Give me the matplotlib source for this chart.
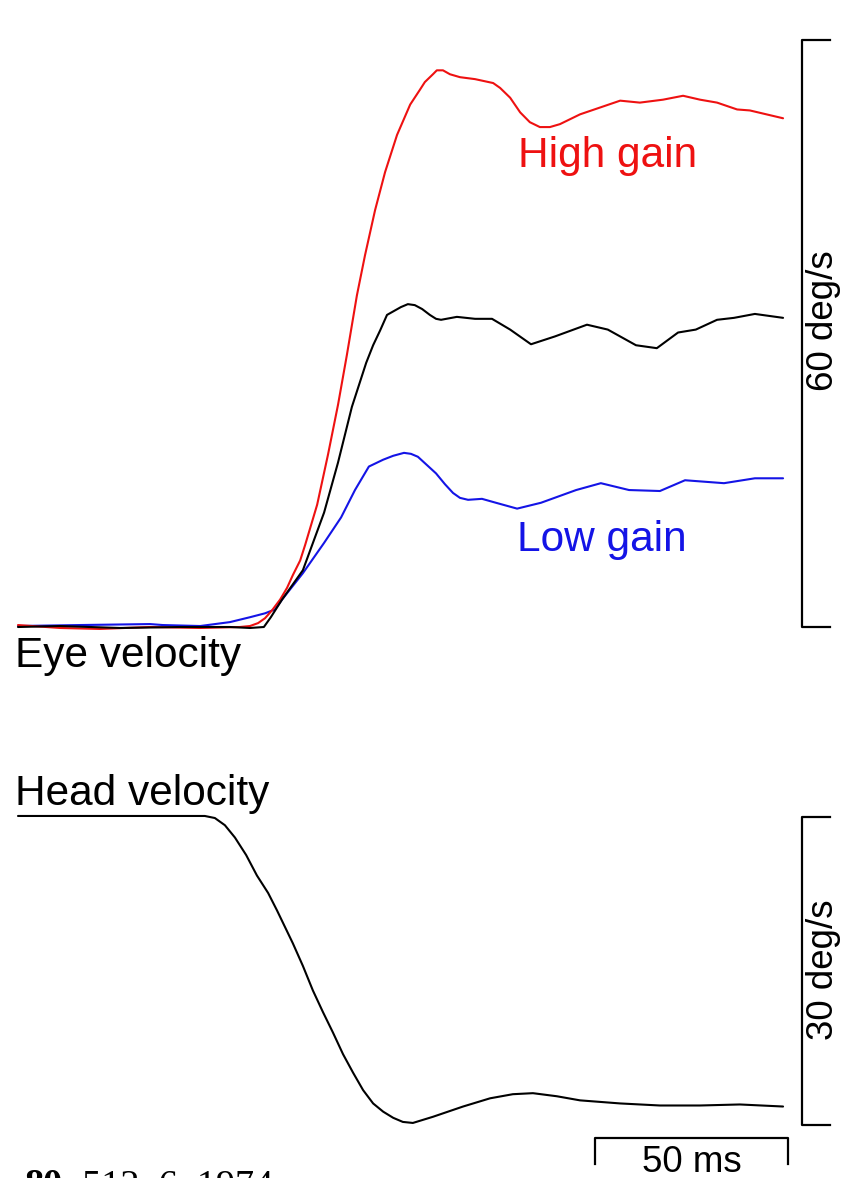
import numpy as np
import matplotlib
matplotlib.use("Agg")
import matplotlib.pyplot as plt

# eye velocity traces, time in ms from trace start, velocity in deg/s
red_t = [0, 10.9, 21.2, 34.2, 47.2, 57.5, 60.1, 62.2, 64.0, 65.8, 67.9, 69.7, 71.2,
         73.1, 74.4, 77.5, 80.3, 82.9, 85.2, 87.8, 89.9, 92.5, 95.1, 98.2, 101.6,
         104.1, 105.4, 107.5, 108.5, 110.1, 111.9, 114.5, 118.4, 123.1, 124.9,
         127.5, 130.1, 132.6, 135.2, 137.8, 140.4, 145.6, 150.8, 156.0, 161.1,
         167.1, 172.3, 176.7, 181.1, 186.3, 189.6, 198.2]
red_v = [0.2, -0.1, -0.2, 0.0, -0.1, 0.0, 0.1, 0.4, 0.9, 1.7, 2.8, 4.0, 5.3,
         6.8, 8.4, 12.5, 17.6, 22.7, 27.8, 33.9, 38.0, 42.6, 46.5, 50.3, 53.4,
         54.9, 55.7, 56.5, 56.9, 56.9, 56.5, 56.2, 56.0, 55.6, 55.1,
         54.1, 52.6, 51.6, 51.1, 51.1, 51.4, 52.4, 53.1, 53.8, 53.6,
         53.9, 54.3, 53.9, 53.6, 52.9, 52.8, 52.0]

black_t = [0, 10.9, 26.4, 42.0, 54.9, 60.1, 63.7, 65.5, 68.4, 73.8, 79.3, 82.9, 86.5,
           90.2, 92.0, 93.8, 95.6, 97.4, 99.2, 101.0, 102.8, 104.7, 106.7, 108.3,
           109.6, 113.7, 118.4, 122.8, 127.5, 132.9, 139.1, 147.4, 152.8, 160.1,
           165.5, 171.0, 175.6, 181.1, 185.5, 190.9, 198.2]
black_v = [0.0, 0.1, -0.1, 0.0, 0.0, -0.1, 0.0, 1.0, 2.8, 5.8, 11.7, 16.8, 22.5,
           27.0, 28.8, 30.3, 31.9, 32.3, 32.7, 33.0, 32.9, 32.5, 31.9, 31.5,
           31.4, 31.7, 31.5, 31.5, 30.4, 28.9, 29.7, 30.9, 30.4, 28.8,
           28.5, 30.1, 30.4, 31.4, 31.6, 32.0, 31.6]

blue_t = [0, 16.1, 34.2, 37.5, 47.2, 54.9, 60.1, 64.0, 66.6, 68.4, 73.8, 79.3, 83.7,
          87.3, 90.9, 94.6, 97.2, 100.0, 101.8, 103.6, 108.3, 110.6, 112.7, 114.5,
          116.6, 120.2, 123.8, 129.3, 135.5, 144.6, 151.0, 158.3, 166.3, 172.8,
          182.9, 190.9, 198.2]
blue_v = [0.1, 0.2, 0.3, 0.2, 0.1, 0.5, 1.0, 1.4, 1.8, 2.8, 5.5, 8.6, 11.2,
          14.0, 16.4, 17.1, 17.5, 17.8, 17.7, 17.4, 15.7, 14.6, 13.7, 13.2,
          13.0, 13.1, 12.7, 12.1, 12.7, 14.0, 14.7, 14.0, 13.9, 15.0,
          14.7, 15.2, 15.2]

# head velocity, deg/s above the lower end of its scale bar
head_t = [0, 21.2, 34.2, 48.4, 51.0, 53.6, 56.2, 59.1, 61.9, 64.8, 67.1, 71.2, 73.8,
          76.4, 79.0, 81.6, 84.2, 86.8, 89.4, 92.0, 94.6, 97.2, 99.7, 102.3, 107.5,
          115.3, 122.3, 128.2, 133.4, 139.6, 145.6, 156.0, 166.3, 176.7, 187.0, 198.2]
head_v = [30.1, 30.1, 30.1, 30.1, 29.9, 29.2, 28.0, 26.3, 24.3, 22.6, 20.9, 17.7, 15.5,
          13.1, 11.0, 9.0, 6.9, 5.1, 3.4, 2.1, 1.3, 0.7, 0.3, 0.2, 0.8,
          1.8, 2.6, 3.0, 3.1, 2.8, 2.4, 2.1, 1.9, 1.9, 2.0, 1.8]

eye_scale = 60   # deg/s
head_scale = 30  # deg/s
time_scale = 50  # ms

W, H = 846, 1178
fig = plt.figure(figsize=(W / 100, H / 100), dpi=100)
plt.rcParams["font.family"] = ["Liberation Sans", "DejaVu Sans"]

# pixel layout: trace start, ms width and deg/s heights
x0, px_ms = 18, 3.86
eye_base, eye_px = 627, 587 / 60
head_base, head_px = 1125, 308 / 30


def t_lim():
    return (-x0 / px_ms, (W - x0) / px_ms)


ax_eye = fig.add_axes([0, 0, 1, 1])
ax_eye.set_xlim(*t_lim())
ax_eye.set_ylim((eye_base - H) / eye_px, eye_base / eye_px)
ax_eye.axis("off")

ax_head = fig.add_axes([0, 0, 1, 1])
ax_head.set_xlim(*t_lim())
ax_head.set_ylim((head_base - H) / head_px, head_base / head_px)
ax_head.axis("off")
ax_head.patch.set_alpha(0)

lw = 1.5
kw = dict(lw=lw, solid_joinstyle="round", solid_capstyle="round")
ax_eye.plot(blue_t, blue_v, color="#1414e6", **kw)
ax_eye.plot(red_t, red_v, color="#ee1111", **kw)
ax_eye.plot(black_t, black_v, color="black", **kw)
ax_head.plot(head_t, head_v, color="black", **kw)

# scale bars
bar_t = (802 - x0) / px_ms
tick_t = (830 - x0) / px_ms
ax_eye.plot([tick_t, bar_t, bar_t, tick_t], [eye_scale, eye_scale, 0, 0],
            color="black", lw=1.6, clip_on=False)
ax_head.plot([tick_t, bar_t, bar_t, tick_t], [head_scale, head_scale, 0, 0],
             color="black", lw=1.6, clip_on=False)
t_start = (595 - x0) / px_ms
ax_head.plot([t_start, t_start, t_start + time_scale, t_start + time_scale],
             [-3.8, -1.27, -1.27, -3.8], color="black", lw=1.6, clip_on=False)


def px(x, y):
    return x / W, 1 - y / H


fig.text(*px(15, 667), "Eye velocity", fontsize=30.5, va="baseline", ha="left")
fig.text(*px(15, 805), "Head velocity", fontsize=30.5, va="baseline", ha="left")
fig.text(*px(518, 167), "High gain", fontsize=30.5, color="#ee1111", va="baseline")
fig.text(*px(517, 551), "Low gain", fontsize=30.5, color="#1414e6", va="baseline")
fig.text(*px(823, 321), "%d deg/s" % eye_scale, fontsize=26.5, rotation=90,
         ha="center", va="center")
fig.text(*px(823, 970), "%d deg/s" % head_scale, fontsize=26.5, rotation=90,
         ha="center", va="center")
fig.text(*px(692, 1172), "%d ms" % time_scale, fontsize=26.5, ha="center", va="baseline")

# citation line, running off the bottom edge
fig.text(*px(25, 1195), "80", fontsize=27.5, family="Liberation Serif",
         weight="bold", va="baseline")
fig.text(*px(63, 1195), ", 512\u20136, 1974", fontsize=27.5,
         family="Liberation Serif", va="baseline")

fig.savefig("out.png", dpi=100)
